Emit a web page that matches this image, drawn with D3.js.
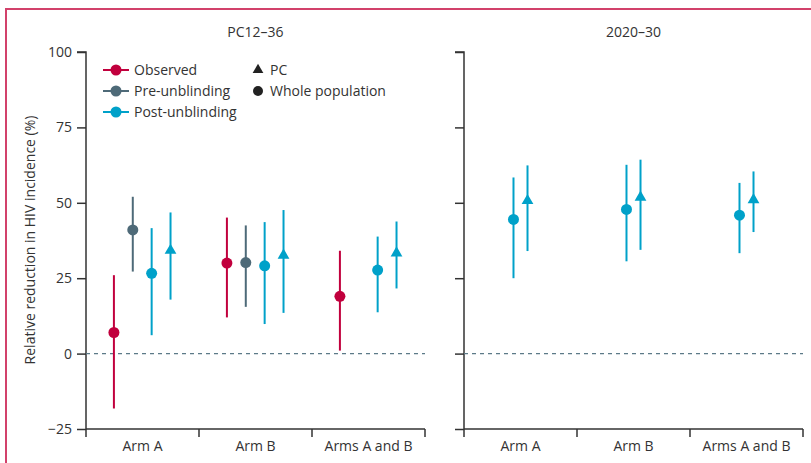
<!DOCTYPE html>
<html><head><meta charset="utf-8">
<script src="https://cdn.jsdelivr.net/npm/d3@7"></script>
<style>
body{margin:0;background:#fff;}
text{font-family:"Open Sans","Noto Sans",sans-serif;fill:#333;}
</style></head>
<body><svg id="c" width="811" height="463"></svg>
<script>
// ---- data ----
const categories = ["Arm A", "Arm B", "Arms A and B"];
const panels = ["PC12\u201336", "2020\u201330"];
const yTicks = [-25, 0, 25, 50, 75, 100];
const seriesNames = ["Observed", "Pre-unblinding", "Post-unblinding"];
const seriesColors = {"Observed": "#c1003d", "Pre-unblinding": "#4e6a78", "Post-unblinding": "#00a1c9"};
// left panel (PC12-36): [category, series, shape, estimate, low, high]
const panel1Points = [
  ["Arm A", "Observed", "whole", 7, -18.2, 26],
  ["Arm A", "Pre-unblinding", "whole", 41, 27.2, 52],
  ["Arm A", "Post-unblinding", "whole", 26.6, 6.1, 41.6],
  ["Arm A", "Post-unblinding", "pc", 34.2, 17.9, 46.8],
  ["Arm B", "Observed", "whole", 30, 12, 45.1],
  ["Arm B", "Pre-unblinding", "whole", 30.2, 15.5, 42.5],
  ["Arm B", "Post-unblinding", "whole", 29.1, 9.8, 43.6],
  ["Arm B", "Post-unblinding", "pc", 32.6, 13.5, 47.6],
  ["Arms A and B", "Observed", "whole", 19, 1, 34.1],
  ["Arms A and B", "Post-unblinding", "whole", 27.7, 13.7, 38.8],
  ["Arms A and B", "Post-unblinding", "pc", 33.3, 21.6, 43.8]
];
// right panel (2020-30)
const panel2Points = [
  ["Arm A", "Post-unblinding", "whole", 44.5, 25, 58.4],
  ["Arm A", "Post-unblinding", "pc", 50.7, 34, 62.4],
  ["Arm B", "Post-unblinding", "whole", 47.8, 30.6, 62.6],
  ["Arm B", "Post-unblinding", "pc", 51.8, 34.4, 64.3],
  ["Arms A and B", "Post-unblinding", "whole", 45.9, 33.3, 56.6],
  ["Arms A and B", "Post-unblinding", "pc", 51, 40.3, 60.4]
];

// ---- drawing ----
const svg = d3.select("#c");
const axisColor = "#333";

// frame
svg.append("line").attr("x1",6).attr("x2",6).attr("y1",8).attr("y2",463).attr("stroke","#d2416b").attr("stroke-width",2);
svg.append("line").attr("x1",5).attr("x2",811).attr("y1",9).attr("y2",9).attr("stroke","#d2416b").attr("stroke-width",2);

const y = d3.scaleLinear().domain([-25, 100]).range([429, 52]);

function drawPanel(x0, x1, title, pts, slotFn, showLabels) {
  const x = d3.scaleBand().domain(categories).range([x0, x1]).padding(0);
  const g = svg.append("g");
  // y axis
  const ya = g.append("g").attr("transform", `translate(${x0},0)`)
    .call(d3.axisLeft(y).tickValues(yTicks).tickSize(9).tickPadding(5).tickFormat(showLabels ? (d => d < 0 ? "\u2212" + Math.abs(d) : d) : ""));
  ya.select(".domain").attr("stroke", axisColor).attr("stroke-width", 1.5).attr("d", `M-9,${y(100)}H0V${y(-25)}`);
  ya.selectAll(".tick line").attr("stroke", axisColor).attr("stroke-width", 1.5);
  ya.selectAll(".tick text").style("font-size", "14px").attr("fill", "#333");
  // x axis
  const xa = g.append("g").attr("transform", `translate(0,${y(-25)})`)
    .call(d3.axisBottom(x).tickSize(0).tickPadding(12));
  xa.select(".domain").attr("stroke", axisColor).attr("stroke-width", 1.5).attr("d", `M${x0},0H${x1}`);
  xa.selectAll(".tick text").style("font-size", "14px").attr("fill", "#333");
  const bounds = categories.map(c => x(c)).concat([x1]);
  g.selectAll(".xt").data(bounds).enter().append("line")
    .attr("x1", d => d).attr("x2", d => d).attr("y1", y(-25)).attr("y2", y(-25) + 8)
    .attr("stroke", axisColor).attr("stroke-width", 1.5);
  // zero line
  g.append("line").attr("x1", x0).attr("x2", x1).attr("y1", y(0)).attr("y2", y(0))
    .attr("stroke", "#5c7a88").attr("stroke-width", 1.2).attr("stroke-dasharray", "4,4");
  // title
  g.append("text").attr("x", (x0 + x1) / 2).attr("y", 37).attr("text-anchor", "middle")
    .style("font-size", "14px").text(title);
  // points
  const bw = x.bandwidth();
  pts.forEach(p => {
    const [cat, ser, shape, est, lo, hi] = p;
    const cx = x(cat) + slotFn(ser, shape) * bw;
    const col = seriesColors[ser];
    g.append("line").attr("x1", cx).attr("x2", cx).attr("y1", y(lo)).attr("y2", y(hi))
      .attr("stroke", col).attr("stroke-width", 2);
    if (shape === "whole") {
      g.append("circle").attr("cx", cx).attr("cy", y(est)).attr("r", 5.5).attr("fill", col);
    } else {
      g.append("path").attr("d", d3.symbol(d3.symbolTriangle, 60)())
        .attr("transform", `translate(${cx},${y(est)})`).attr("fill", col);
    }
  });
}

const slots1 = d3.scalePoint().domain(["Observed", "Pre-unblinding", "Post-unblinding", "PC"]).range([0.247, 0.748]);
drawPanel(86, 425, panels[0], panel1Points, (s, sh) => sh === "pc" ? slots1("PC") : slots1(s), true);
const slots2 = d3.scalePoint().domain(["whole", "pc"]).range([0.438, 0.562]);
drawPanel(464, 803, panels[1], panel2Points, (s, sh) => slots2(sh), false);

// y axis title
svg.append("text").attr("transform", "translate(35,240) rotate(-90)").attr("text-anchor", "middle")
  .style("font-size", "14px").text("Relative reduction in HIV incidence (%)");

// legend
const leg = svg.append("g");
seriesNames.forEach((s, i) => {
  const ly = 70 + i * 21;
  leg.append("line").attr("x1", 103).attr("x2", 129).attr("y1", ly).attr("y2", ly)
    .attr("stroke", seriesColors[s]).attr("stroke-width", 2);
  leg.append("circle").attr("cx", 116).attr("cy", ly).attr("r", 5.5).attr("fill", seriesColors[s]);
  leg.append("text").attr("x", 134).attr("y", ly).attr("dy", "0.35em").style("font-size", "14px").text(s);
});
leg.append("path").attr("d", d3.symbol(d3.symbolTriangle, 50)()).attr("transform", "translate(258,70)").attr("fill", "#222");
leg.append("text").attr("x", 270).attr("y", 70).attr("dy", "0.35em").style("font-size", "14px").text("PC");
leg.append("circle").attr("cx", 258).attr("cy", 91).attr("r", 5).attr("fill", "#222");
leg.append("text").attr("x", 270).attr("y", 91).attr("dy", "0.35em").style("font-size", "14px").text("Whole population");
</script></body></html>
